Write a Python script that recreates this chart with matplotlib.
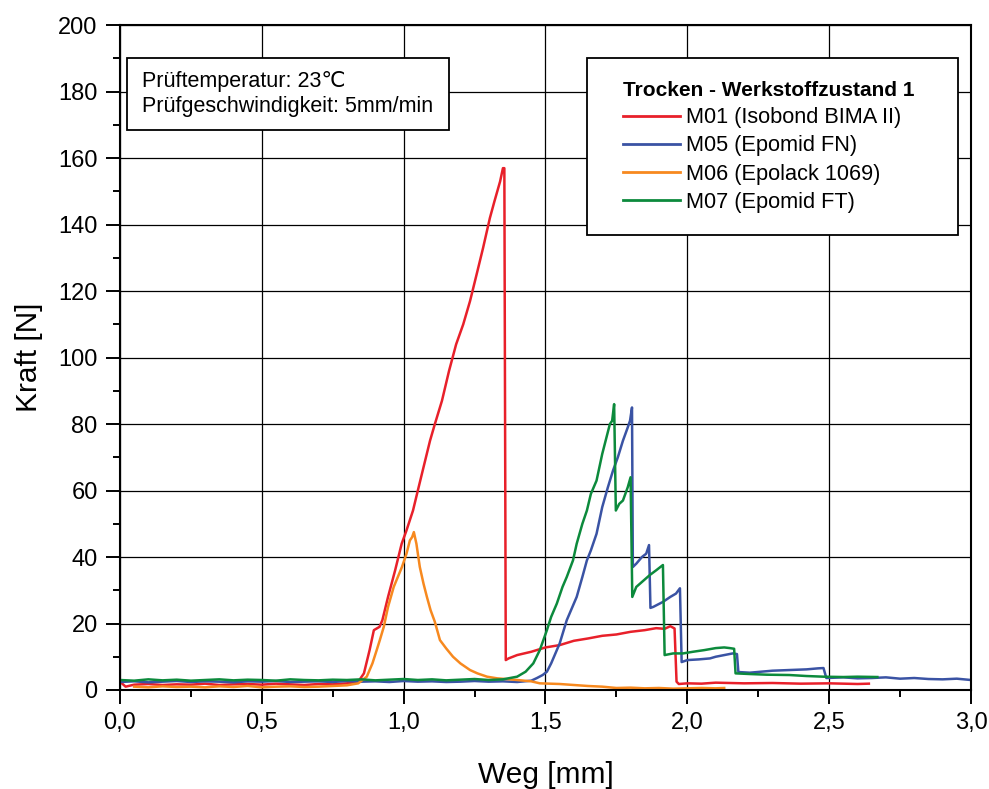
import matplotlib
matplotlib.use("Agg")
import matplotlib.pyplot as plt
from matplotlib.patches import Rectangle
from matplotlib.ticker import MultipleLocator

plt.rcParams['font.family'] = ['Liberation Sans', 'DejaVu Sans']

# M01 (Isobond BIMA II)
m01_x = [0.0, 0.02, 0.05, 0.1, 0.15, 0.2, 0.25, 0.3, 0.35, 0.4, 0.45, 0.5, 0.55, 0.6, 0.65, 0.7, 0.75, 0.8,
         0.84, 0.86, 0.88, 0.895, 0.915, 0.925, 0.945, 0.97, 0.993, 1.01, 1.033, 1.05, 1.07, 1.093, 1.11, 1.135,
         1.16, 1.185, 1.21, 1.234, 1.26, 1.28, 1.304, 1.32, 1.34, 1.35, 1.355, 1.36, 1.37, 1.40, 1.45, 1.50,
         1.55, 1.60, 1.65, 1.70, 1.75, 1.80, 1.85, 1.89, 1.92, 1.94, 1.955, 1.962, 1.97, 2.0, 2.05, 2.1, 2.2,
         2.3, 2.4, 2.5, 2.6, 2.64]
m01_y = [2.5, 1.0, 1.6, 1.8, 1.5, 1.7, 1.6, 1.9, 1.5, 1.7, 1.8, 1.6, 1.9, 1.7, 1.5, 1.8, 1.7, 2.0,
         2.5, 5.0, 12.0, 18.0, 19.0, 21.0, 28.0, 36.0, 44.0, 48.0, 54.0, 60.0, 67.0, 75.0, 80.0, 87.0,
         96.0, 104.0, 110.0, 117.0, 126.0, 133.0, 142.0, 147.0, 153.0, 157.0, 157.0, 9.0, 9.5, 10.5, 11.5, 12.8,
         13.5, 14.8, 15.5, 16.3, 16.7, 17.5, 18.0, 18.6, 18.4, 19.2, 18.5, 2.5, 1.8, 2.0, 1.9, 2.2, 2.0,
         2.1, 1.9, 2.0, 1.8, 1.9]

# M05 (Epomid FN)
m05_x = [0.0, 0.05, 0.1, 0.15, 0.2, 0.25, 0.3, 0.35, 0.4, 0.45, 0.5, 0.55, 0.6, 0.65, 0.7, 0.75, 0.8, 0.85,
         0.9, 0.95, 1.0, 1.05, 1.1, 1.15, 1.2, 1.25, 1.3, 1.35, 1.4, 1.45, 1.47, 1.49, 1.505, 1.52, 1.535, 1.55,
         1.575, 1.59, 1.61, 1.63, 1.646, 1.66, 1.68, 1.70, 1.72, 1.738, 1.755, 1.773, 1.79, 1.798, 1.805, 1.808,
         1.82, 1.84, 1.855, 1.865, 1.87, 1.88, 1.914, 1.94, 1.96, 1.974, 1.98, 2.0, 2.04, 2.08, 2.1, 2.13, 2.16,
         2.175, 2.18, 2.22, 2.26, 2.3, 2.36, 2.42, 2.46, 2.48, 2.49, 2.55, 2.6, 2.65, 2.7, 2.75, 2.8, 2.85, 2.9,
         2.95, 3.0]
m05_y = [2.4, 2.6, 2.3, 2.5, 2.7, 2.4, 2.6, 2.5, 2.3, 2.6, 2.5, 2.7, 2.4, 2.5, 2.6, 2.4, 2.7, 2.5,
         2.6, 2.4, 2.7, 2.5, 2.6, 2.4, 2.5, 2.7, 2.5, 2.6, 2.4, 2.8, 3.6, 4.5, 5.5, 8.0, 11.0, 14.0,
         21.0, 24.0, 28.0, 34.0, 39.0, 42.0, 47.0, 55.0, 61.0, 66.0, 70.0, 75.0, 79.0, 81.0, 85.0, 37.0,
         38.0, 40.0, 41.0, 43.6, 24.7, 25.0, 26.5, 28.0, 29.0, 30.6, 8.4, 9.0, 9.2, 9.5, 10.0, 10.5, 11.0,
         10.8, 5.4, 5.2, 5.5, 5.8, 6.0, 6.2, 6.5, 6.6, 3.6, 3.8, 3.5, 3.6, 3.8, 3.4, 3.6, 3.3, 3.2,
         3.4, 3.0]

# M06 (Epolack 1069)
m06_x = [0.05, 0.1, 0.15, 0.2, 0.25, 0.3, 0.35, 0.4, 0.45, 0.5, 0.55, 0.6, 0.65, 0.7, 0.75, 0.8, 0.84, 0.87,
         0.89, 0.905, 0.916, 0.93, 0.945, 0.965, 0.994, 1.01, 1.022, 1.03, 1.036, 1.045, 1.057, 1.07, 1.082,
         1.095, 1.11, 1.128, 1.15, 1.174, 1.2, 1.234, 1.26, 1.294, 1.33, 1.36, 1.40, 1.45, 1.48, 1.55, 1.6,
         1.65, 1.7, 1.75, 1.8, 1.85, 1.9, 1.95, 2.0, 2.05, 2.1, 2.13]
m06_y = [1.0, 0.8, 1.1, 0.9, 1.0, 0.8, 1.1, 0.9, 1.2, 0.8, 1.0, 1.1, 0.9, 1.0, 1.2, 1.4, 2.0, 4.0,
         8.0, 12.0, 15.0, 19.0, 25.0, 31.0, 37.0, 41.0, 45.0, 46.0, 47.5, 44.0, 37.0, 32.0, 28.0,
         24.0, 20.5, 15.0, 12.5, 10.0, 8.0, 6.0, 5.0, 4.0, 3.5, 3.3, 3.0, 2.6, 2.0, 1.8, 1.5,
         1.2, 1.0, 0.6, 0.7, 0.5, 0.6, 0.4, 0.5, 0.6, 0.5, 0.6]

# M07 (Epomid FT)
m07_x = [0.0, 0.05, 0.1, 0.15, 0.2, 0.25, 0.3, 0.35, 0.4, 0.45, 0.5, 0.55, 0.6, 0.65, 0.7, 0.75, 0.8, 0.85,
         0.9, 0.95, 1.0, 1.05, 1.1, 1.15, 1.2, 1.25, 1.3, 1.35, 1.40, 1.43, 1.457, 1.48, 1.505, 1.52, 1.54, 1.56,
         1.575, 1.597, 1.61, 1.63, 1.646, 1.66, 1.68, 1.70, 1.715, 1.727, 1.735, 1.742, 1.748, 1.76, 1.773, 1.79,
         1.80, 1.806, 1.82, 1.84, 1.868, 1.89, 1.914, 1.92, 1.95, 1.985, 2.02, 2.06, 2.10, 2.13, 2.15, 2.165,
         2.17, 2.22, 2.28, 2.36, 2.42, 2.48, 2.55, 2.6, 2.67]
m07_y = [3.0, 2.8, 3.2, 2.9, 3.1, 2.8, 3.0, 3.2, 2.9, 3.1, 3.0, 2.8, 3.2, 3.0, 2.9, 3.1, 3.0, 3.2,
         2.9, 3.1, 3.3, 3.0, 3.2, 2.9, 3.1, 3.3, 3.0, 3.2, 4.0, 5.5, 8.0, 12.0, 18.0, 22.0, 26.0, 31.0,
         34.0, 39.0, 44.0, 50.0, 54.0, 59.0, 63.0, 71.0, 76.0, 80.0, 81.0, 86.0, 54.0, 56.0, 57.0, 61.0,
         64.0, 28.0, 31.0, 32.5, 34.6, 36.0, 37.6, 10.5, 11.0, 11.0, 11.5, 12.0, 12.6, 12.8, 12.6, 12.4,
         5.0, 4.8, 4.6, 4.5, 4.2, 4.0, 3.9, 4.0, 3.9]

series = [
    (m01_x, m01_y, "#e8202a", "M01 (Isobond BIMA II)"),
    (m05_x, m05_y, "#3a53a4", "M05 (Epomid FN)"),
    (m06_x, m06_y, "#f7891f", "M06 (Epolack 1069)"),
    (m07_x, m07_y, "#0c8a3c", "M07 (Epomid FT)"),
]

x_ticks = [0.0, 0.5, 1.0, 1.5, 2.0, 2.5, 3.0]
x_tick_labels = ["0,0", "0,5", "1,0", "1,5", "2,0", "2,5", "3,0"]
y_ticks = [0, 20, 40, 60, 80, 100, 120, 140, 160, 180, 200]

fig = plt.figure(figsize=(9.89, 7.89), dpi=100)
ax = fig.add_axes([0.1213, 0.1255, 0.8605, 0.8425])

for xs, ys, col, lab in series:
    ax.plot(xs, ys, color=col, lw=1.8, label=lab)

ax.set_xlim(0, 3.0)
ax.set_ylim(0, 200)
ax.set_xticks(x_ticks)
ax.set_xticklabels(x_tick_labels)
ax.set_yticks(y_ticks)
ax.xaxis.set_minor_locator(MultipleLocator(0.25))
ax.yaxis.set_minor_locator(MultipleLocator(10))
ax.tick_params(which="major", direction="out", length=10, width=1.4, labelsize=17, pad=6)
ax.tick_params(which="minor", direction="out", length=5, width=1.4)
ax.grid(True, which="major", color="black", lw=0.9)
for s in ax.spines.values():
    s.set_linewidth(1.5)

ax.set_xlabel("Weg [mm]", fontsize=21.5, labelpad=19)
ax.set_ylabel("Kraft [N]", fontsize=21.5, labelpad=11)

# Textfeld Prüfbedingungen
ax.add_patch(Rectangle((0.0086, 0.842), 0.378, 0.108, transform=ax.transAxes,
                       facecolor="white", edgecolor="black", lw=1.3, zorder=5))
ax.text(0.0255, 0.907, "Prüftemperatur: 23\u2103", transform=ax.transAxes, fontsize=15.5,
        va="baseline", zorder=6)
ax.text(0.0255, 0.869, "Prüfgeschwindigkeit: 5mm/min", transform=ax.transAxes, fontsize=15.5,
        va="baseline", zorder=6)

# Legende
ax.add_patch(Rectangle((0.549, 0.684), 0.436, 0.266, transform=ax.transAxes,
                       facecolor="white", edgecolor="black", lw=1.3, zorder=5))
leg = ax.legend(loc="upper left", bbox_to_anchor=(0.591, 0.916), frameon=False, fontsize=15.7,
                title="Trocken - Werkstoffzustand 1", title_fontproperties={"weight": "bold", "size": 15},
                alignment="left", borderpad=0, borderaxespad=0, handlelength=2.6, handletextpad=0.3,
                labelspacing=0.33)
leg.set_zorder(6)
for h in leg.get_lines():
    h.set_linewidth(2.0)

fig.savefig("out.png", dpi=100)
